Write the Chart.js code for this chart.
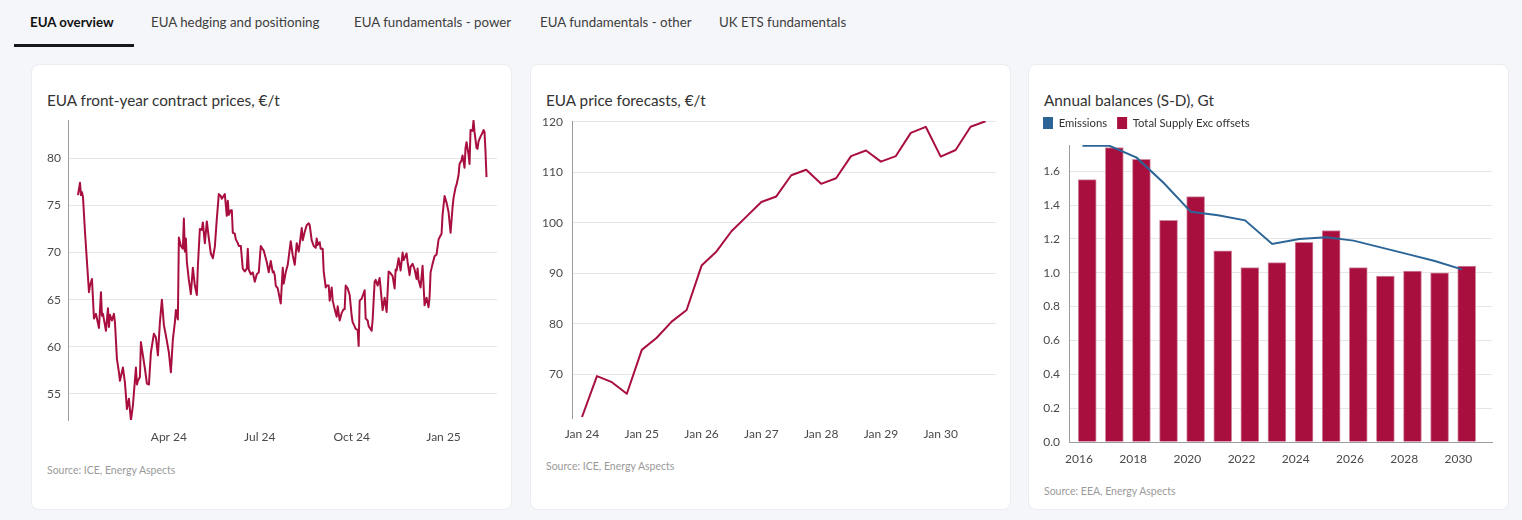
<!DOCTYPE html>
<html>
<head>
<meta charset="utf-8">
<script src="https://cdn.jsdelivr.net/npm/chart.js@4.4.1/dist/chart.umd.min.js"></script>
<style>
html,body{margin:0;padding:0;background:#f5f6fa;width:1522px;height:520px;overflow:hidden;font-family:Lato,"Open Sans",sans-serif;}
.tab{position:absolute;top:13px;font-size:13.3px;line-height:18px;color:#3d3d3d;white-space:nowrap;}
.tab.active{font-weight:700;color:#111;}
.underline{position:absolute;left:14px;top:44px;width:120px;height:3px;background:#15171c;}
.card{position:absolute;top:64px;width:481px;height:446px;background:#fff;border:1px solid #eaecf1;border-radius:8px;box-sizing:border-box;}
.title{position:absolute;left:15px;top:25px;font-size:15.3px;line-height:20px;color:#333;white-space:nowrap;}
.source{position:absolute;left:15px;font-size:10.5px;line-height:14px;color:#9a9a9a;white-space:nowrap;}
canvas{position:absolute;}
</style>
</head>
<body>
<div class="tab active" style="left:30px">EUA overview</div>
<div class="tab" style="left:151px">EUA hedging and positioning</div>
<div class="tab" style="left:354px">EUA fundamentals - power</div>
<div class="tab" style="left:540px">EUA fundamentals - other</div>
<div class="tab" style="left:719px">UK ETS fundamentals</div>
<div class="underline"></div>

<div class="card" style="left:31px">
  <div class="title">EUA front-year contract prices, €/t</div>
  <div class="source" style="top:398px">Source: ICE, Energy Aspects</div>
</div>
<div class="card" style="left:530px">
  <div class="title">EUA price forecasts, €/t</div>
  <div class="source" style="top:394px">Source: ICE, Energy Aspects</div>
</div>
<div class="card" style="left:1028px">
  <div class="title">Annual balances (S-D), Gt</div>
  <div class="source" style="top:419px">Source: EEA, Energy Aspects</div>
</div>

<canvas id="c1" width="470" height="340" style="left:36px;top:110px;width:470px;height:340px"></canvas>
<canvas id="c2" width="470" height="336" style="left:535px;top:110px;width:470px;height:336px"></canvas>
<canvas id="c3" width="467" height="365" style="left:1033px;top:107px;width:467px;height:365px"></canvas>

<script>
// ---------- Chart 1: EUA front-year contract prices (day index from 2024-01-01) ----------
const priceDays = [0,2,3,4,5,7,11,12,14,16,18,21,23,24,25,28,30,31,32,34,36,37,39,41,42,45,47,49,51,53,55,58,59,60,62,63,65,67,69,71,73,76,78,80,82,84,86,88,91,93,95,97,98,100,101,103,105,106,107,108,109,111,113,115,117,119,120,122,124,125,127,129,131,133,135,137,139,141,143,144,147,149,150,151,153,154,155,157,158,160,161,163,165,167,169,170,171,173,175,177,179,181,183,184,186,189,191,193,195,196,197,198,200,203,205,206,208,210,213,215,217,219,221,224,225,227,229,231,232,234,236,238,239,240,242,243,245,246,248,249,251,252,254,255,257,259,260,262,264,266,267,268,270,272,274,275,276,278,280,281,282,284,287,288,290,291,294,295,297,298,300,302,303,305,307,309,311,313,315,317,318,319,321,323,325,326,329,330,332,333,335,337,339,340,341,343,345,347,348,349,351,352,353,355,357,359,361,363,364,365,367,369,371,373,375,376,378,379,381,382,384,385,387,388,389,391,392,393,395,396,397,399,400,401,403,405,406,407,408,409];
const priceValues = [76.1,77.4,76.1,76.4,75.9,72.2,65.8,66.5,67.2,63.0,63.5,62.0,65.8,63.3,63.5,61.7,64.1,62.1,63.4,62.8,63.5,62.6,58.7,57.3,56.4,57.8,56.2,53.4,54.5,52.2,53.8,57.8,56.0,56.4,56.8,60.5,59.1,57.7,56.1,56.0,59.4,61.4,61.0,59.1,62.6,65.0,62.3,61.2,59.4,57.3,60.8,62.6,63.9,62.9,71.6,70.7,70.4,73.6,70.1,71.5,69.0,67.1,65.6,68.4,66.5,65.5,68.5,72.5,72.4,73.2,71.0,73.3,71.5,69.9,69.4,70.6,73.6,76.2,76.0,75.7,76.2,73.9,75.5,74.0,74.5,74.5,72.1,72.0,71.4,71.0,70.7,70.7,68.3,68.0,68.3,70.4,68.2,67.7,67.9,66.9,67.7,67.9,70.7,70.5,70.2,69.0,67.9,69.1,67.9,68.0,67.6,66.5,66.2,64.6,68.4,66.7,67.9,68.7,71.2,69.7,68.7,71.0,70.1,72.6,71.3,72.2,72.9,73.1,72.9,71.3,70.7,70.5,71.5,70.8,71.1,70.4,70.4,68.0,66.3,66.5,66.5,64.9,66.3,64.9,64.0,63.2,64.3,62.8,63.6,64.0,64.0,66.5,66.2,65.5,63.3,62.6,62.4,61.9,61.8,60.1,64.9,65.1,66.0,63.0,62.8,62.2,61.7,62.9,66.9,67.1,66.5,67.3,66.2,63.9,65.2,63.7,68.0,67.8,67.5,66.2,68.2,68.1,69.4,68.1,70.0,69.2,69.9,69.0,67.6,68.5,68.8,68.2,67.2,68.3,67.1,66.3,68.6,64.4,64.8,65.2,64.2,65.3,67.9,68.8,69.6,69.8,71.4,71.8,72.0,74.0,76.0,75.3,74.3,72.1,74.8,75.8,76.9,77.2,78.2,79.4,79.8,80.3,79.0,81.1,81.7,80.4,79.4,83.0,82.9,84.0,82.8,81.1,81.0,81.8,82.3,82.7,83.0,82.8,80.7,78.0];
const priceTickDays = [91,182,274,366];
const priceTickLabels = ['Apr 24','Jul 24','Oct 24','Jan 25'];
const priceYTicks = [55,60,65,70,75,80];

// ---------- Chart 2: EUA price forecasts (quarterly, Q1 2024 .. Q4 2030) ----------
const forecastQuarters = [0,1,2,3,4,5,6,7,8,9,10,11,12,13,14,15,16,17,18,19,20,21,22,23,24,25,26,27];
const forecastValues = [61.5,69.6,68.4,66.1,74.8,77.2,80.4,82.7,91.5,94.3,98.3,101.2,104.1,105.2,109.4,110.5,107.7,108.8,113.2,114.3,112.1,113.2,117.8,119.0,113.1,114.4,119.0,120.1];
const forecastTickQuarters = [0,4,8,12,16,20,24];
const forecastTickLabels = ['Jan 24','Jan 25','Jan 26','Jan 27','Jan 28','Jan 29','Jan 30'];
const forecastYTicks = [70,80,90,100,110,120];

// ---------- Chart 3: Annual balances ----------
const balanceYears = [2016,2017,2018,2019,2020,2021,2022,2023,2024,2025,2026,2027,2028,2029,2030];
const emissions = [1.75,1.75,1.68,1.53,1.36,1.34,1.31,1.17,1.20,1.21,1.19,1.15,1.11,1.07,1.02];
const totalSupply = [1.55,1.74,1.67,1.31,1.45,1.13,1.03,1.06,1.18,1.25,1.03,0.98,1.01,1.00,1.04];
const balanceTickYears = [2016,2018,2020,2022,2024,2026,2028,2030];
const balanceYTicks = [0,0.2,0.4,0.6,0.8,1.0,1.2,1.4,1.6];

// ---------- styling ----------
const RED = '#a90f3e';
const BLUE = '#2b6597';
const GRID = '#e6e6e6';
const AXIS = '#9c9c9c';
const BAR_SHIFT = 0.306;   // bars drawn a little right of the year tick
const LINE_SHIFT = 0.13;

Chart.defaults.font.family = 'Lato, "Open Sans", sans-serif';
Chart.defaults.font.size = 12;
Chart.defaults.color = '#4a4a4a';
Chart.defaults.animation = false;

const fixedTicks = vals => scale => { scale.ticks = vals.map(v => ({value: v})); };
const fixW = w => scale => { scale.width = w; scale.paddingTop = 0; scale.paddingBottom = 0; };
const fixH = h => scale => { scale.height = h; scale.paddingLeft = 0; scale.paddingRight = 0; };
const noPlugins = {legend: {display: false}, tooltip: {enabled: false}};

// Chart 1
new Chart(document.getElementById('c1'), {
  type: 'line',
  data: {datasets: [{
    data: priceDays.map((d, i) => ({x: d, y: priceValues[i]})),
    borderColor: RED, borderWidth: 2, pointRadius: 0, tension: 0,
    borderJoinStyle: 'round', fill: false
  }]},
  options: {
    responsive: false, animation: false,
    layout: {padding: {top: 10, right: 9, left: 0, bottom: 0}},
    plugins: noPlugins,
    scales: {
      x: {type: 'linear', min: -10, max: 419.5,
          grid: {display: false, drawTicks: false}, border: {display: false},
          afterBuildTicks: fixedTicks(priceTickDays), afterFit: fixH(30),
          ticks: {padding: 10, maxRotation: 0, autoSkip: false, callback: (v, i) => priceTickLabels[i]}},
      y: {min: 52.24, max: 84.06,
          afterBuildTicks: fixedTicks(priceYTicks), afterFit: fixW(32),
          grid: {color: GRID, drawTicks: false}, border: {color: AXIS},
          ticks: {padding: 7}}
    }
  }
});

// Chart 2
new Chart(document.getElementById('c2'), {
  type: 'line',
  data: {datasets: [{
    data: forecastQuarters.map((q, i) => ({x: q, y: forecastValues[i]})),
    borderColor: RED, borderWidth: 2, pointRadius: 0, tension: 0,
    borderJoinStyle: 'round', fill: false
  }]},
  options: {
    responsive: false, animation: false,
    layout: {padding: {top: 11, right: 9, left: 0, bottom: 0}},
    plugins: noPlugins,
    scales: {
      x: {type: 'linear', min: -0.67, max: 27.7,
          grid: {display: false, drawTicks: false}, border: {display: false},
          afterBuildTicks: fixedTicks(forecastTickQuarters), afterFit: fixH(28),
          ticks: {padding: 9, maxRotation: 0, autoSkip: false, callback: (v, i) => forecastTickLabels[i]}},
      y: {min: 61.3, max: 120.15,
          afterBuildTicks: fixedTicks(forecastYTicks), afterFit: fixW(37),
          grid: {color: GRID, drawTicks: false}, border: {color: AXIS},
          ticks: {padding: 9}}
    }
  }
});

// Chart 3
const legendHeight = {
  id: 'legendHeight',
  beforeLayout(chart) {
    const lg = chart.legend;
    if (lg && !lg._patched) {
      const orig = lg.fit;
      lg.fit = function () { orig.call(this); this.height = 38; };
      lg._patched = true;
    }
  }
};

new Chart(document.getElementById('c3'), {
  type: 'bar',
  data: {datasets: [
    {type: 'line', label: 'Emissions', order: 0,
     data: balanceYears.map((y, i) => ({x: y + LINE_SHIFT, y: emissions[i]})),
     borderColor: BLUE, backgroundColor: BLUE, borderWidth: 2, pointRadius: 0, tension: 0, fill: false},
    {type: 'bar', label: 'Total Supply Exc offsets', order: 1,
     data: balanceYears.map((y, i) => ({x: y + BAR_SHIFT, y: totalSupply[i]})),
     backgroundColor: RED, borderColor: '#d28aa0', borderWidth: 1, barThickness: 18}
  ]},
  options: {
    responsive: false, animation: false,
    layout: {padding: {top: 0, right: 8, left: 0, bottom: 0}},
    plugins: {
      tooltip: {enabled: false},
      legend: {display: true, position: 'top', align: 'start',
        labels: {boxWidth: 10, boxHeight: 12, padding: 10, color: '#333', font: {size: 11.3},
          generateLabels: chart => chart.data.datasets.map((ds, i) => ({
            text: ds.label, fillStyle: i === 0 ? BLUE : RED, strokeStyle: i === 0 ? BLUE : RED,
            lineWidth: 0, hidden: false, datasetIndex: i, fontColor: '#333'
          }))}}
    },
    scales: {
      x: {type: 'linear', min: 2015.634, max: 2031.24, offset: false,
          grid: {display: false, drawTicks: false}, border: {display: true, color: AXIS},
          afterBuildTicks: fixedTicks(balanceTickYears), afterFit: fixH(30),
          ticks: {padding: 10, maxRotation: 0, autoSkip: false, callback: v => String(v)}},
      y: {min: 0, max: 1.755, beginAtZero: true,
          afterBuildTicks: fixedTicks(balanceYTicks), afterFit: fixW(36),
          grid: {color: GRID, drawTicks: false}, border: {color: AXIS},
          ticks: {padding: 9, callback: v => v.toFixed(1)}}
    }
  },
  plugins: [legendHeight]
});
</script>
</body>
</html>
